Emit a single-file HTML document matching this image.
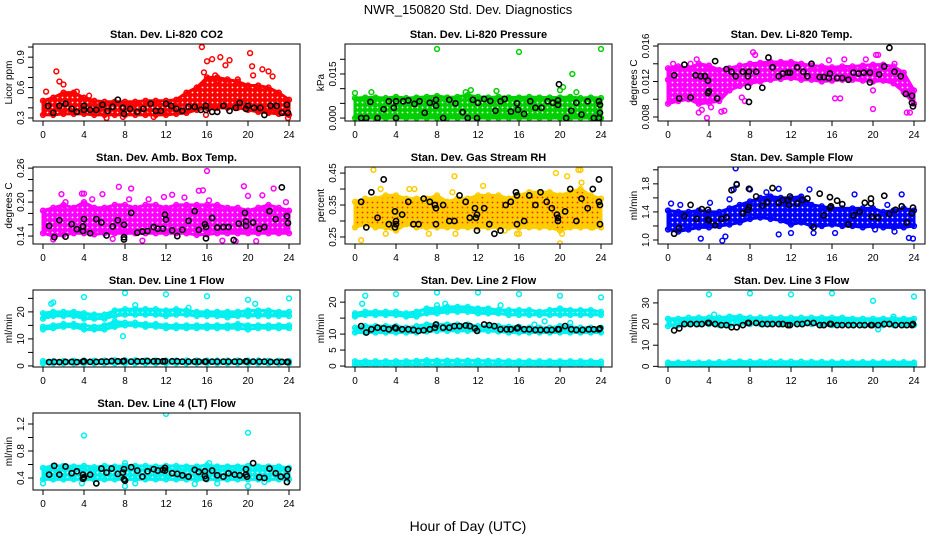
<!DOCTYPE html>
<html><head><meta charset="utf-8"><style>
html,body{margin:0;padding:0;background:#fff;}
svg{display:block;font-family:"Liberation Sans",Arial,sans-serif;}
</style></head><body>
<svg id="chart" width="936" height="540" viewBox="0 0 936 540" xmlns="http://www.w3.org/2000/svg">
<rect width="936" height="540" fill="#fff"/>
<defs id="defs"></defs>
<text x="468" y="14" text-anchor="middle" font-size="13">NWR_150820  Std. Dev. Diagnostics</text>
<text x="468" y="531" text-anchor="middle" font-size="14">Hour of Day (UTC)</text>
</svg>
<script>
// ---- data (hourly band limits, outliers, black points) ----
const hours = [0,1,2,3,4,5,6,7,8,9,10,11,12,13,14,15,16,17,18,19,20,21,22,23,24];
const xTicks = [0,4,8,12,16,20,24];

const co2Lo = [.33,.33,.34,.34,.34,.33,.33,.33,.33,.33,.33,.33,.33,.34,.35,.38,.40,.40,.40,.40,.38,.36,.35,.34,.33];
const co2Hi = [.47,.50,.55,.55,.50,.47,.46,.46,.46,.46,.47,.47,.47,.48,.55,.60,.70,.70,.68,.66,.62,.62,.60,.55,.48];
const co2Out = [[0.3,.56],[1.3,.76],[1.6,.66],[2,.63],[3.3,.56],[4.5,.52],[6.2,.30],[7.8,.31],[10.8,.31],[15.5,1.0],[15.7,.75],[16,.86],[16.5,.88],[17.3,.90],[17.8,.82],[18.2,.87],[16.8,.72],[20.2,.94],[20.4,.81],[20.5,.72],[21.4,.78],[22,.76],[22.4,.71],[23.9,.30],[15.9,.33],[17,.67],[19,.68]];
const co2Blk = [[0.5,.42],[1,.35],[1.6,.42],[2.2,.44],[2.8,.39],[3.3,.36],[4,.38],[4,.42],[4.6,.38],[5.2,.38],[5.8,.43],[6.3,.37],[6.8,.41],[7.3,.48],[7.8,.4],[7.9,.34],[8.5,.39],[9.2,.36],[9.8,.39],[10.5,.44],[11,.37],[11.5,.37],[12,.44],[12.5,.42],[13,.39],[13.6,.37],[14.2,.41],[14.8,.41],[15.4,.38],[15.9,.42],[15.9,.38],[16.5,.36],[17,.36],[17.6,.42],[18.2,.37],[18.8,.4],[19.2,.45],[19.8,.39],[20,.42],[20.6,.4],[21.2,.4],[21.6,.33],[22.2,.42],[22.8,.42],[23.3,.35],[23.8,.43],[23.9,.35]];
const co2Ticks = [0.3,0.4,0.5,0.6,0.7,0.8,0.9,1.0];
const co2Labels = ["0.3","","","0.6","","","0.9",""];

const presLo = [0,0,0,0,0,0,0,0,0,0,0,0,0,0,0,0,0,0,0,0,0,0,0,0,0];
const presHi = [.0068,.0070,.0070,.0068,.0072,.0068,.0070,.0072,.0075,.0070,.0072,.0078,.0072,.0070,.0072,.0070,.0070,.0072,.0070,.0070,.0070,.0072,.0068,.0070,.0068];
const presOut = [[0,.0085],[1.6,.0088],[8,.0235],[11.3,.0095],[13.8,.0092],[16,.0225],[20.3,.0105],[21.2,.0150],[21.6,.0088],[24,.0235],[20.0,.0095],[10.8,.0088]];
const presBlk = [[0.6,0],[1.1,0],[1.5,.0055],[2.2,0],[2.8,.003],[3.3,.0057],[3.8,.0035],[4,.0057],[4,0],[4.7,.0057],[5.2,.006],[5.8,.0048],[6.3,.0057],[6.8,.0018],[7.3,.0052],[7.9,.0042],[7.9,.0062],[8.6,0],[9.2,.0062],[9.8,.005],[10.5,.002],[11,0],[11.5,.0062],[11.9,0],[12,.0052],[12.6,.0065],[13.2,.0058],[13.7,.0025],[14.2,.0057],[14.6,.0065],[15.2,.0022],[15.8,.005],[15.9,.0028],[16.5,.0014],[17.1,.0057],[17.6,.0035],[18.2,.0035],[18.8,.0057],[19.3,.0052],[19.8,.006],[19.8,.0045],[19.9,.0115],[20.6,0],[21.1,.0025],[21.6,.0052],[22.1,.0012],[22.7,.0057],[23.3,0],[23.8,.0057],[23.9,.0045],[23.9,.0018],[23.8,0]];
const presTicks = [0,0.005,0.010,0.015,0.020];
const presLabels = ["0.000","","","0.015",""];

const tempLo = [.0095,.0098,.0100,.0095,.0096,.0098,.0110,.0115,.0118,.0120,.0122,.0123,.0124,.0122,.0122,.0120,.0121,.0122,.0122,.0121,.0120,.0121,.0118,.0108,.0095];
const tempHi = [.0135,.0137,.0135,.0140,.0138,.0133,.0135,.0138,.0140,.0141,.0142,.0142,.0142,.0140,.0138,.0137,.0136,.0137,.0137,.0138,.0139,.0139,.0137,.0130,.0110];
const tempOut = [[0,.0122],[0.5,.0140],[1.4,.0115],[2.2,.0140],[2.8,.0145],[3,.0085],[3.3,.0088],[3.8,.0079],[4.2,.0091],[5.2,.0086],[5.5,.0087],[7.2,.0102],[8.3,.0153],[8.5,.0150],[7.5,.0098],[15.7,.0144],[16.3,.0101],[16.8,.0101],[17.2,.0145],[19.3,.0145],[20,.0089],[20.3,.0150],[20.5,.0150],[20,.0110],[22.1,.0140],[23.3,.0085],[23.6,.0085],[1.0,.0103]];
const tempBlk = [[0.6,.0127],[1.1,.0101],[1.6,.0139],[2.2,.0102],[2.7,.0127],[3.2,.0126],[3.6,.0126],[3.9,.0121],[3.9,.0107],[4,.0109],[4.6,.0143],[4.8,.0101],[5.7,.0134],[6.2,.0131],[6.6,.0126],[7.3,.0131],[7.8,.0126],[7.8,.0114],[7.9,.0097],[7.9,.0131],[8.6,.0131],[9.2,.0113],[9.8,.0147],[10.2,.0136],[10.8,.0126],[11.2,.0129],[11.7,.0130],[11.9,.0130],[12.6,.0136],[13.2,.0131],[13.6,.0126],[14,.0140],[14.8,.0125],[15.2,.0125],[15.7,.0124],[15.8,.0129],[16.5,.0124],[17,.0124],[17.6,.0122],[18.1,.0130],[18.6,.0129],[19.1,.0130],[19.7,.0130],[19.7,.0119],[20.6,.0128],[21.1,.0137],[21.6,.0158],[22.1,.0131],[22.7,.0126],[23.2,.0106],[23.8,.0104],[23.8,.0096],[23.9,.0092]];
const tempTicks = [0.008,0.010,0.012,0.014,0.016];
const tempLabels = ["0.008","","0.012","","0.016"];

const ambLo = [.145,.140,.142,.145,.145,.143,.145,.145,.145,.145,.145,.145,.145,.145,.145,.142,.143,.145,.145,.145,.145,.145,.145,.145,.145];
const ambHi = [.185,.190,.195,.190,.200,.190,.190,.195,.195,.190,.195,.195,.190,.195,.195,.195,.195,.195,.190,.190,.185,.190,.195,.190,.185];
const ambOut = [[1,.134],[1.8,.214],[2.2,.200],[3.8,.215],[4,.215],[4.8,.205],[5.8,.214],[6.8,.135],[7.4,.227],[8.6,.224],[8.4,.205],[9.7,.132],[10.3,.205],[11.8,.209],[12.6,.213],[13.8,.208],[15.2,.220],[15.6,.221],[16,.255],[16.2,.203],[17.5,.132],[18.8,.131],[19.6,.228],[20,.211],[20.8,.131],[21.4,.212],[22.5,.224],[23.7,.200],[23.8,.150]];
const ambBlk = [[0.6,.158],[1.1,.138],[1.6,.168],[2.2,.139],[2.8,.161],[3.3,.152],[3.9,.157],[3.9,.149],[4,.170],[4.6,.145],[5.2,.170],[5.7,.164],[6.2,.141],[6.8,.157],[7.3,.168],[7.9,.138],[7.9,.160],[7.9,.134],[8.6,.181],[9.2,.146],[9.7,.148],[10.2,.149],[10.8,.156],[11.2,.153],[11.7,.153],[11.9,.178],[12,.169],[12.6,.150],[13.1,.140],[13.6,.151],[14.2,.167],[14.8,.184],[15.2,.151],[15.8,.161],[15.9,.156],[15.9,.136],[16.5,.172],[17,.155],[17.6,.156],[18.1,.156],[18.6,.133],[19.1,.162],[19.7,.181],[19.8,.166],[19.8,.158],[20.5,.164],[21.1,.153],[21.6,.156],[22.1,.184],[22.7,.170],[23.3,.226],[23.8,.175],[23.9,.163]];
const ambTicks = [0.14,0.16,0.18,0.20,0.22,0.24,0.26];
const ambLabels = ["0.14","","","0.20","","","0.26"];

const rhLo = [.28,.29,.28,.28,.27,.29,.28,.28,.28,.28,.28,.28,.28,.28,.28,.28,.28,.28,.28,.28,.27,.28,.28,.28,.28];
const rhHi = [.36,.37,.37,.38,.38,.37,.37,.37,.38,.36,.37,.37,.38,.38,.38,.37,.38,.39,.39,.39,.38,.39,.40,.38,.37];
const rhOut = [[0.6,.24],[1.8,.46],[2.5,.40],[3,.26],[5.3,.40],[5.8,.40],[7.2,.26],[9.5,.39],[9.7,.44],[9.8,.26],[12.5,.41],[13,.28],[14.6,.27],[15.8,.26],[16,.26],[19.6,.45],[20,.23],[20.2,.26],[20.7,.44],[21.8,.46],[22,.46],[22.1,.42],[23.2,.28]];
const rhBlk = [[0.6,.36],[1.1,.28],[1.6,.39],[2.2,.31],[2.8,.43],[3.3,.29],[3.9,.33],[3.9,.28],[4,.30],[4,.29],[4.6,.32],[5.2,.36],[5.7,.29],[6.2,.29],[6.7,.37],[7.3,.36],[7.8,.35],[7.9,.34],[7.9,.29],[8.6,.35],[9.2,.30],[9.7,.30],[10.2,.38],[10.8,.36],[11.2,.31],[11.7,.34],[11.8,.31],[11.9,.32],[11.9,.27],[12.6,.34],[13.1,.29],[13.6,.26],[14.2,.27],[14.7,.35],[15.2,.36],[15.7,.39],[15.8,.38],[15.8,.29],[16.5,.30],[17,.38],[17.6,.35],[18.1,.39],[18.7,.36],[19.2,.34],[19.7,.32],[19.8,.31],[19.8,.30],[20.5,.33],[21,.40],[21.6,.30],[22.1,.37],[22.7,.34],[23.2,.40],[23.8,.43],[23.8,.36],[23.9,.35],[23.9,.29]];
const rhTicks = [0.25,0.30,0.35,0.40,0.45];
const rhLabels = ["0.25","","0.35","","0.45"];

const flowLo = [1.15,1.12,1.15,1.18,1.18,1.20,1.22,1.25,1.30,1.32,1.30,1.28,1.22,1.25,1.20,1.20,1.22,1.20,1.20,1.18,1.20,1.18,1.18,1.18,1.20];
const flowHi = [1.42,1.40,1.40,1.42,1.40,1.40,1.45,1.50,1.55,1.60,1.62,1.60,1.60,1.62,1.50,1.48,1.45,1.45,1.45,1.45,1.45,1.40,1.42,1.45,1.42];
const flowOut = [[0.3,1.52],[1.2,1.50],[3.2,1.02],[4.1,1.53],[5.3,0.99],[5.6,1.05],[6,1.58],[6.4,1.72],[6.6,2.02],[6.7,1.80],[8,1.72],[9.6,1.68],[10.8,1.08],[10.8,1.73],[12,1.10],[13.8,1.72],[14.2,1.10],[16.3,1.10],[18.2,1.65],[20.2,1.15],[21.4,1.50],[22.1,1.12],[22.8,1.65],[23.5,1.03],[23.9,1.02]];
const flowBlk = [[0.6,1.09],[1.1,1.17],[1.6,1.34],[2.2,1.50],[2.8,1.30],[3.3,1.44],[3.9,1.43],[3.9,1.29],[4,1.28],[4.6,1.21],[5.2,1.30],[5.7,1.32],[6.2,1.71],[6.7,1.79],[7.3,1.38],[7.8,1.43],[7.9,1.47],[7.9,1.73],[8.6,1.62],[9.2,1.49],[9.7,1.54],[10.2,1.74],[10.8,1.53],[11.2,1.57],[11.7,1.57],[11.8,1.50],[11.9,1.62],[12.6,1.52],[13.1,1.57],[13.6,1.59],[14.2,1.18],[14.8,1.66],[15.2,1.35],[15.8,1.61],[15.8,1.46],[15.9,1.48],[16.5,1.56],[17,1.51],[17.6,1.22],[18.1,1.35],[18.7,1.40],[19.2,1.53],[19.8,1.59],[19.8,1.52],[19.9,1.33],[20.5,1.32],[21.1,1.63],[21.6,1.37],[22.2,1.43],[22.8,1.48],[23.3,1.25],[23.8,1.38],[23.9,1.46]];
const flowTicks = [1.0,1.2,1.4,1.6,1.8,2.0];
const flowLabels = ["1.0","","1.4","","1.8",""];

const blkHours = [0.6,1.1,1.6,2.2,2.8,3.3,3.9,4.0,4.6,5.2,5.7,6.2,6.7,7.3,7.8,7.9,8.6,9.2,9.7,10.2,10.8,11.2,11.7,11.9,12.6,13.1,13.6,14.2,14.8,15.2,15.8,15.9,16.5,17.0,17.6,18.1,18.7,19.2,19.8,19.9,20.5,21.1,21.6,22.2,22.8,23.3,23.8,23.9];

const l1UpLo = [17.5,18.5,18.5,18.5,17.5,17.5,17.5,18.5,19,19,19,19,18.5,19,19,18.5,18.5,18.5,18,18.5,18.5,18.5,18.5,18.5,18.5];
const l1UpHi = [19.5,20,20,20,19.5,19,19,20.5,21,21,21,21,20.5,21,20.5,20,20,20,20,20,20.5,20.5,20.5,20,20];
const l1MidLo = [13.5,14,14.5,14.5,13.5,13.5,13.5,14.5,15,15,14.5,14.5,14,14,14,14,14,14,14,14,13.5,14,14,14,14];
const l1MidHi = [14.5,15,15.5,15.5,15,14.5,15,16.5,16,16,15.5,15.5,15,15,15,15,15,15,15,15.5,15,15,15,15,15];
const l1BotLo = [1.0,1.0,1.0,1.0,1.0,1.0,1.0,1.0,1.0,1.0,1.0,1.0,1.0,1.0,1.0,1.0,1.0,1.0,1.0,1.0,1.0,1.0,1.0,1.0,1.0];
const l1BotHi = [1.8,1.8,1.8,1.9,2.0,1.9,2.0,2.1,2.1,2.1,2.0,2.0,2.0,2.0,2.0,2.0,2.0,2.0,2.0,2.0,2.0,2.0,1.9,1.9,1.8];
const l1Out = [[0.5,18.5],[0.8,23],[1,23.5],[4,25.5],[8,27],[7.8,11],[9,22.5],[12,26.5],[14.2,21.5],[16,25.8],[20,24.5],[20.7,23],[24,25]];
const l1BlkY = [1.4,1.5,1.4,1.5,1.5,1.4,1.6,1.7,1.5,1.5,1.6,1.6,1.8,1.7,1.7,1.8,1.6,1.7,1.7,1.8,1.7,1.7,1.7,1.7,1.7,1.7,1.6,1.6,1.6,1.6,1.6,1.6,1.6,1.6,1.6,1.6,1.6,1.6,1.7,1.6,1.6,1.6,1.6,1.5,1.5,1.5,1.5,1.4];
const lTicks = [0,5,10,15,20,25];
const l1Labels = ["0","","10","","20",""];

const l2UpLo = [15.5,16,16,16,16,15.5,15.5,16.5,16.5,17,17,17,16.5,16.5,16.5,16,16,16,16,16,16,16,16,16,16];
const l2UpHi = [16.5,17,17,17,17,16.5,17,18,18,18.5,18.5,18.5,18,18,17.5,17.5,17.5,17.5,17,17.5,18,17.5,17.5,17.5,17];
const l2MidLo = [10.5,10.5,10.5,10.5,10.5,10.5,10.5,10.8,11,11,11,11,11,11,10.8,10.5,10.5,10.5,10.5,10.5,10.5,10.5,10.5,10.5,10.5];
const l2MidHi = [12,12.5,12.5,12.5,12.5,12,12.5,13,13,13,13,13,12.5,12.5,12.5,12.3,12.3,12,12,12,12.5,12.3,12,12,12];
const l2BotLo = [0.4,0.4,0.4,0.4,0.4,0.4,0.4,0.4,0.4,0.4,0.4,0.4,0.4,0.4,0.4,0.4,0.4,0.4,0.4,0.4,0.4,0.4,0.4,0.4,0.4];
const l2BotHi = [1.5,1.5,1.5,1.5,1.5,1.5,1.6,1.8,1.7,1.7,1.7,1.7,1.7,1.6,1.6,1.5,1.5,1.5,1.5,1.5,1.5,1.5,1.5,1.5,1.4];
const l2Out = [[0,16],[0.7,19.5],[1,22],[4,22.5],[8,23],[8,19],[8.8,19.5],[12,23],[14.2,19],[16,22.5],[17.5,13],[20,22],[21,13.5],[24,21.5],[18.5,14]];
const l2BlkY = [12.5,10.5,11.5,12,11.8,11.5,12,11.8,11.5,11.5,11.3,11,11.2,11.5,12,13,12,12,12.5,12.5,12.7,12.5,11.8,11,13,12.8,12.5,11.5,11.5,11.5,11.8,12,11.5,11.5,11.3,11.3,11.3,11.3,11.5,11.5,12.5,11.5,11.3,11.3,11.5,11.5,11.5,11.8];
const l2Labels = ["0","5","10","","20",""];

const l3UpLo = [19,19.5,20,20,20,19.5,19.5,20,20,20,20,20,20,20,20,19.5,19.5,19.5,19.5,19.5,19.5,19.5,19.5,19.5,19.5];
const l3UpHi = [22.5,22.5,23,23,23,23,23.5,23.5,23,23,23,23,23,23,23,23,23,23,22.5,22.5,22.5,22.5,22.5,22.5,22.5];
const l3BotLo = [0.5,0.5,0.5,0.5,0.5,0.5,0.5,0.5,0.5,0.5,0.5,0.5,0.5,0.5,0.5,0.5,0.5,0.5,0.5,0.5,0.5,0.5,0.5,0.5,0.5];
const l3BotHi = [1.8,1.8,1.8,1.8,1.9,2.0,2.2,2.3,2.2,2.2,2.2,2.2,2.2,2.2,2.1,2.1,2.0,2.0,2.0,2.0,2.0,2.0,2.0,2.0,1.8];
const l3Out = [[4,34],[4.5,24.5],[8,34.5],[12,34],[16,34.5],[20,31],[22,23.5],[24,33],[20.5,17.5]];
const l3BlkY = [17,18,20,20,20,20,20.5,20.5,20,19.5,19.5,18.5,18.5,19.5,20.5,20.5,20.5,20,20,20,20,20,19.5,19.5,20,20,20.5,20.5,19.5,19.5,20,20,19.5,19.5,19.5,19.5,19.5,19.5,19.5,19.5,19.5,20,20,19.5,19.5,19.5,19.5,20];
const l3Ticks = [0,10,20,30];
const l3Labels = ["0","10","20","30"];

const l4Lo = [.38,.38,.38,.38,.38,.38,.38,.38,.38,.38,.38,.38,.38,.38,.38,.38,.38,.38,.38,.38,.38,.38,.38,.38,.38];
const l4Hi = [.55,.58,.58,.57,.58,.56,.58,.57,.58,.58,.58,.57,.58,.58,.57,.57,.59,.57,.57,.57,.58,.57,.57,.57,.55];
const l4Out = [[0,.32],[3.8,.32],[4,1.03],[5.2,.32],[8,.62],[8,.28],[9,.32],[12,1.35],[14.8,.31],[16.2,.62],[17,.32],[20,1.07],[20,.28],[21.6,.34],[23.8,.34]];
const l4Blk = [[0.6,.45],[1.1,.58],[1.6,.45],[2.2,.57],[2.8,.47],[3.3,.50],[3.9,.45],[3.9,.39],[4,.41],[4.6,.45],[5.2,.32],[5.7,.54],[6.2,.48],[6.7,.54],[7.3,.46],[7.8,.48],[7.9,.38],[7.9,.53],[8,.36],[8.6,.56],[9.2,.51],[9.7,.42],[10.2,.50],[10.8,.53],[11.2,.51],[11.7,.52],[11.9,.55],[11.9,.51],[12.6,.47],[13.1,.46],[13.6,.44],[14.2,.42],[14.8,.52],[15.2,.49],[15.8,.50],[15.8,.43],[15.9,.39],[16.5,.51],[17,.44],[17.6,.42],[18.1,.47],[18.7,.45],[19.2,.44],[19.8,.53],[19.8,.45],[19.9,.42],[20.5,.62],[21.1,.41],[21.6,.40],[22.1,.54],[22.7,.47],[23.2,.42],[23.8,.34],[23.8,.43],[23.9,.53]];
const l4Ticks = [0.4,0.6,0.8,1.0,1.2];
const l4Labels = ["0.4","","0.8","","1.2"];

// ---- rendering ----
const NS = "http://www.w3.org/2000/svg";
const svg = document.getElementById("chart");
const defs = document.getElementById("defs");
const colLeft = [33,345,658], rowTop = [44,167,290,413], W = 267, H = 77;

function mk(tag, attrs, parent){
  const e = document.createElementNS(NS, tag);
  for (const k in attrs) e.setAttribute(k, attrs[k]);
  parent.appendChild(e);
  return e;
}
let patN = 0;
function pattern(color){
  const id = "pat" + (patN++);
  const p = mk("pattern", {id: id, width: 5, height: 5, patternUnits: "userSpaceOnUse"}, defs);
  mk("rect", {width: 5, height: 5, fill: color.stroke}, p);
  mk("circle", {cx: 2.5, cy: 2.5, r: 0.9, fill: color.dot}, p);
  return "url(#" + id + ")";
}

function panel(key, col, row, title, ylab, ymin, ymax, ticks, labels, color, bands, outliers, black){
  const L = colLeft[col], T = rowTop[row];
  const g = mk("g", {}, svg);
  
  
  const xs = h => L + 10 + h * (246/24);
  const ys = v => T + H - (v - ymin) / (ymax - ymin) * H;
  const clipId = "clip-" + key;
  const cp = mk("clipPath", {id: clipId}, g);
  mk("rect", {x: L, y: T, width: W, height: H}, cp);
  const plot = mk("g", {"clip-path": "url(#" + clipId + ")"}, g);
  
  
  const fillPat = pattern(color);
  bands.forEach(b => {
    let pts = hours.map((h,i) => xs(h) + "," + ys(b[1][i]));
    pts = pts.concat(hours.slice().reverse().map((h,j) => { const i = hours.length-1-j; return xs(h) + "," + ys(b[0][i]); }));
    const poly = mk("polygon", {points: pts.join(" "), fill: fillPat, stroke: color.stroke, "stroke-width": 3, "stroke-linejoin": "round"}, plot);
    
    
    hours.forEach((h,i) => {
      [b[0][i], b[1][i]].forEach(v => {
        const c = mk("circle", {cx: xs(h), cy: ys(v), r: 2.4, fill: "none", stroke: color.stroke, "stroke-width": 1.5}, plot);
        
        
      });
    });
  });
  outliers.forEach(p => {
    const c = mk("circle", {cx: xs(p[0]), cy: ys(p[1]), r: 2.4, fill: "none", stroke: color.stroke, "stroke-width": 1.5}, plot);
    
    
  });
  black.forEach(p => {
    const c = mk("circle", {cx: xs(p[0]), cy: ys(p[1]), r: 2.6, fill: "none", stroke: "#000", "stroke-width": 1.6}, plot);
    
    
  });
  const box = mk("rect", {x: L, y: T, width: W, height: H, fill: "none", stroke: "#000", "stroke-width": 1}, g);
  
  
  const t = mk("text", {x: L + W/2, y: T - 6, "text-anchor": "middle", "font-size": 11, "font-weight": "bold"}, g);
  t.textContent = title;
  
  
  xTicks.forEach(h => {
    mk("line", {x1: xs(h), x2: xs(h), y1: T+H, y2: T+H+5, stroke: "#000"}, g);
    const tx = mk("text", {x: xs(h), y: T+H+17, "text-anchor": "middle", "font-size": 10}, g);
    tx.textContent = h;
    
    
  });
  ticks.forEach((v,i) => {
    const y = ys(v);
    if (y < T - 1 || y > T + H + 1) return;
    mk("line", {x1: L-5, x2: L, y1: y, y2: y, stroke: "#000"}, g);
    if (labels[i]) {
      const ty = mk("text", {x: 0, y: 0, "text-anchor": "middle", "font-size": 10, transform: "translate(" + (L-9) + "," + y + ") rotate(-90)"}, g);
      ty.textContent = labels[i];
      
      
    }
  });
  const yl = mk("text", {x: 0, y: 0, "text-anchor": "middle", "font-size": 10, transform: "translate(" + (L-21) + "," + (T+H/2) + ") rotate(-90)"}, g);
  yl.textContent = ylab;
  
  
}

const toPairs = ys => blkHours.map((h,i) => [h, ys[i]]);
const red = {stroke: "#ff0000", dot: "#ffffff"}, green = {stroke: "#00d000", dot: "#ffffff"},
      mag = {stroke: "#ff00ff", dot: "#ffffff"}, orange = {stroke: "#ffcc00", dot: "#ff2000"},
      blue = {stroke: "#0000ff", dot: "#ffffff"}, cyan = {stroke: "#00f0f0", dot: "#ffffff"};

panel("co2", 0, 0, "Stan. Dev. Li-820 CO2", "Licor ppm", 0.27, 1.03, co2Ticks, co2Labels, red, [[co2Lo, co2Hi]], co2Out, co2Blk);
panel("pressure", 1, 0, "Stan. Dev. Li-820 Pressure", "kPa", -0.001, 0.0252, presTicks, presLabels, green, [[presLo, presHi]], presOut, presBlk);
panel("temp", 2, 0, "Stan. Dev. Li-820 Temp.", "degrees C", 0.00755, 0.01623, tempTicks, tempLabels, mag, [[tempLo, tempHi]], tempOut, tempBlk);
panel("ambbox", 0, 1, "Stan. Dev. Amb. Box Temp.", "degrees C", 0.126, 0.262, ambTicks, ambLabels, mag, [[ambLo, ambHi]], ambOut, ambBlk);
panel("rh", 1, 1, "Stan. Dev. Gas Stream RH", "percent", 0.228, 0.469, rhTicks, rhLabels, orange, [[rhLo, rhHi]], rhOut, rhBlk);
panel("sampleflow", 2, 1, "Stan. Dev. Sample Flow", "ml/min", 0.943, 2.04, flowTicks, flowLabels, blue, [[flowLo, flowHi]], flowOut, flowBlk);
panel("line1", 0, 2, "Stan. Dev. Line 1 Flow", "ml/min", -0.4, 28.1, lTicks, l1Labels, cyan, [[l1UpLo, l1UpHi],[l1MidLo, l1MidHi],[l1BotLo, l1BotHi]], l1Out, toPairs(l1BlkY));
panel("line2", 1, 2, "Stan. Dev. Line 2 Flow", "ml/min", -0.3, 23.8, lTicks, l2Labels, cyan, [[l2UpLo, l2UpHi],[l2MidLo, l2MidHi],[l2BotLo, l2BotHi]], l2Out, toPairs(l2BlkY));
panel("line3", 2, 2, "Stan. Dev. Line 3 Flow", "ml/min", -0.3, 36.1, l3Ticks, l3Labels, cyan, [[l3UpLo, l3UpHi],[l3BotLo, l3BotHi]], l3Out, toPairs(l3BlkY));
panel("line4", 0, 3, "Stan. Dev. Line 4 (LT) Flow", "ml/min", 0.222, 1.363, l4Ticks, l4Labels, cyan, [[l4Lo, l4Hi]], l4Out, l4Blk);
</script>
</body></html>
